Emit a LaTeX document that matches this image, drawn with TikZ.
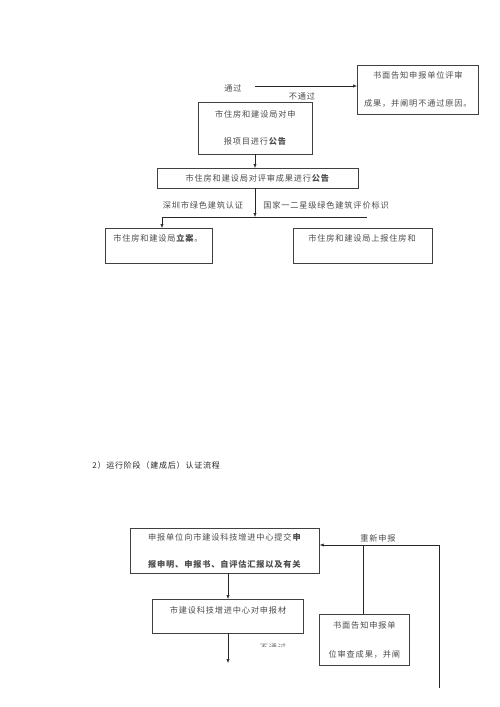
\documentclass[tikz,border=0pt]{standalone}
\usepackage{fontspec}
\setmainfont{Noto Sans CJK SC}[LetterSpace=10]
\usetikzlibrary{arrows.meta}
\begin{document}
\begin{tikzpicture}[x=1pt,y=-1pt,
  line width=0.6pt,
  box/.style={draw=black!75, line width=0.7pt, inner sep=0pt, anchor=north west, align=center, text=black!70},
  txt/.style={inner sep=0pt, text=black!70, font=\fontsize{8.2}{9}\selectfont},
  conn/.style={draw=black!85},
  arr/.style={conn, -{Latex[length=4pt,width=3.2pt]}}]
\useasboundingbox (0,0) rectangle (500,707);
\fill[white] (0,0) rectangle (500,707);

% ---------- upper part ----------
\node[box, minimum width=121, minimum height=49, font=\fontsize{8.2}{28}\selectfont] (fail1) at (357,65)
  {书面告知申报单位评审\\成果，并阐明不通过原因。};
\node[txt] (pass) at (233,88) {通过};
\node[txt] (nopass) at (302,96) {不通过};
\coordinate (passs) at (255,86);
\draw[arr] (passs) -- (passs -| fail1.west);

\node[box, minimum width=114, minimum height=52, font=\fontsize{8.2}{27}\selectfont] (b1) at (198,102)
  {市住房和建设局对申\\报项目进行\textbf{公告}};
\node[box, minimum width=201, minimum height=20, font=\fontsize{8.2}{9}\selectfont] (b2) at (157,168)
  {市住房和建设局对评审成果进行\textbf{公告}};
\draw[arr] (255,154) -- (255,168);

\coordinate (jn) at (255,217);
\coordinate (jl) at (162,217);
\coordinate (jr) at (367,217);
\draw[arr] (255,188) -- (jn);
\draw[conn] (jl) -- (jr);
\node[txt] (lbl1) at (203,205) {深圳市绿色建筑认证};
\node[txt, anchor=west] (lbl2) at (263,205) {国家一二星级绿色建筑评价标识};

\node[box, minimum width=107, minimum height=35] (c1) at (105,228) {};
\node[txt, anchor=west] (c1t) at (113,238) {市住房和建设局\textbf{立案}。};
\node[box, minimum width=139, minimum height=35] (c2) at (293,228) {};
\node[txt] (c2t) at (362,238) {市住房和建设局上报住房和};
\draw[arr] (jl) -- (jl |- c1.north);

% ---------- heading ----------
\node[inner sep=0pt, anchor=west, text=black!85, font=\fontsize{8}{9}\selectfont] (head) at (92,465)
  {2）运行阶段（建成后）认证流程};

% ---------- lower part ----------
\node[box, minimum width=189, minimum height=45, font=\fontsize{8.2}{27}\selectfont] (d1) at (130,528)
  {申报单位向市建设科技增进中心提交\textbf{申}\\\textbf{报申明、申报书、自评估汇报以及有关}};
\node[txt] (renew) at (378,538) {重新申报};
\coordinate (r1) at (439,545);
\coordinate (r2) at (439,688);
\coordinate (r3) at (363,545);
\draw[arr] (r1) -- (r1 -| d1.east);
\draw[conn] (r1) -- (r2);

\node[box, minimum width=151, minimum height=34] (d2) at (152,599) {};
\node[txt] (d2t) at (228,610) {市建设科技增进中心对申报材};
\draw[arr] (228,573) -- (228,599);

\node[box, minimum width=90, minimum height=51, font=\fontsize{8.2}{29}\selectfont] (d3) at (319,614)
  {书面告知申报单\\位审查成果，并阐};
\draw[conn] (r3) -- (r3 |- d3.north);

\coordinate (d2e) at (228,663);
\draw[arr] (228,633) -- (d2e);
\begin{scope}
  \clip (255,640) rectangle (292,646);
  \node[txt, text=black!55] (nopass2) at (273,647) {不通过};
\end{scope}
\end{tikzpicture}
\end{document}
